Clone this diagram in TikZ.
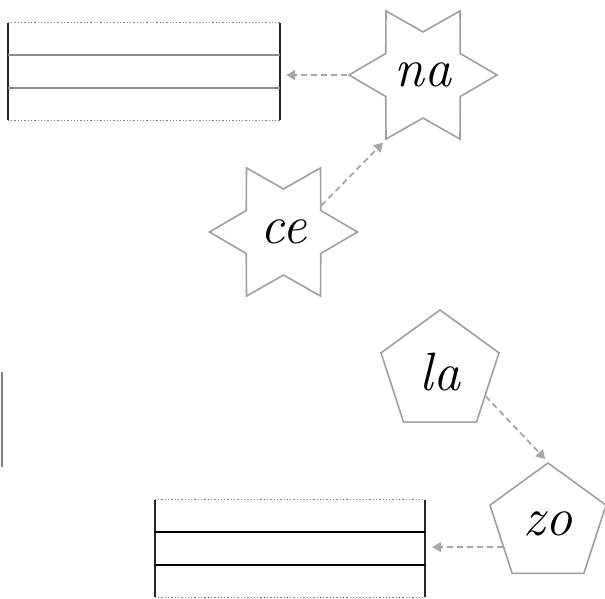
\documentclass[tikz,border=0pt]{standalone}
\usetikzlibrary{shapes.geometric,arrows.meta,calc}

\tikzset{
  syll/.style={draw=gray!75, line width=1.6pt, inner sep=0pt,
    font=\fontsize{54}{54}\selectfont\itshape},
  sixstar/.style={syll, star, star points=6, star point ratio=1.72,
    minimum size=148pt, shape border rotate=90},
  pent/.style={syll, regular polygon, regular polygon sides=5, minimum size=124pt},
  link/.style={gray!70, line width=1.8pt, dash pattern=on 6pt off 4pt,
    -{Triangle[length=9pt,width=10pt]}},
  linebox/.style={rectangle, minimum width=272pt, minimum height=97pt, inner sep=0pt}
}

\begin{document}
\begin{tikzpicture}[x=1pt, y=-1pt]
  \useasboundingbox (0,0) rectangle (605,599);

  % writing boxes
  \node[linebox] (box1) at (144,71.5) {};
  \node[linebox, minimum width=270pt] (box2) at (290,548.5) {};
  \foreach \b/\c/\w in {box1/gray!90/2.4pt, box2/black/1.6pt} {
    \draw[gray, line width=1.3pt, dotted] (\b.north west) -- (\b.north east);
    \draw[gray, line width=1.3pt, dotted] (\b.south west) -- (\b.south east);
    \draw[black!85, line width=2pt] (\b.north west) -- (\b.south west);
    \draw[black!85, line width=2pt] (\b.north east) -- (\b.south east);
    \draw[\c, line width=\w] ($(\b.north west)!1/3!(\b.south west)$) -- ($(\b.north east)!1/3!(\b.south east)$);
    \draw[\c, line width=\w] ($(\b.north west)!2/3!(\b.south west)$) -- ($(\b.north east)!2/3!(\b.south east)$);
  }
  \coordinate (cutA) at (2,372);
  \coordinate (cutB) at (2,467);
  \draw[gray, line width=1.6pt] (cutA) -- (cutB);

  % syllables
  \node[sixstar] (na) at (423,75) {na};
  \node[sixstar] (ce) at (283.5,232) {ce};
  \node[pent] (la) at (440,372) {la};
  \node[pent, minimum size=122pt] (zo) at (548,524) {zo};

  % arrows
  \draw[link] (na.west) -- (na.west -| box1.east) [shorten >=6pt];
  \draw[link, shorten >=3pt] (ce.35) -- (na.240);
  \draw[link, shorten >=4pt] (la.-28) -- (zo.corner 1);
  \draw[link, shorten >=7pt] ($(zo.west)+(8,23)$) coordinate (zoL) -- (zoL -| box2.east);
\end{tikzpicture}
\end{document}
